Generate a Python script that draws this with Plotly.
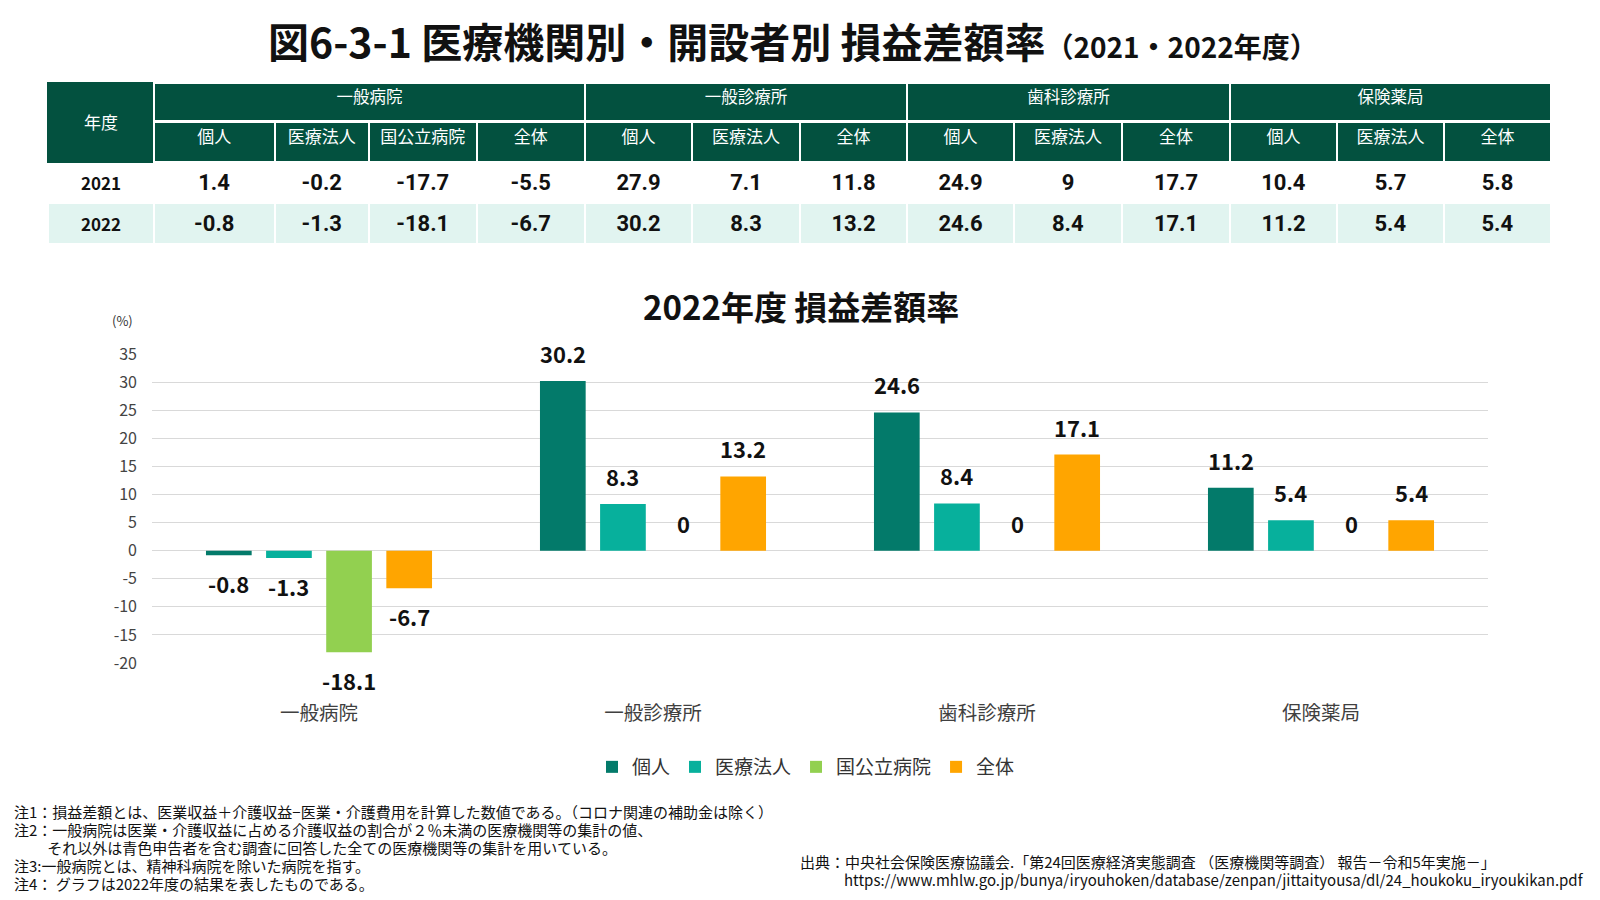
import plotly.graph_objects as go

# ---------------- data ----------------
categories = ["一般病院", "一般診療所", "歯科診療所", "保険薬局"]
series_names = ["個人", "医療法人", "国公立病院", "全体"]
v_kojin = [-0.8, 30.2, 24.6, 11.2]
v_iryou = [-1.3, 8.3, 8.4, 5.4]
v_kokkou = [-18.1, 0, 0, 0]
v_zentai = [-6.7, 13.2, 17.1, 5.4]
series_values = [v_kojin, v_iryou, v_kokkou, v_zentai]
series_colors = ["#037A6A", "#07B09C", "#92D050", "#FFA500"]

table_groups = ["一般病院", "一般診療所", "歯科診療所", "保険薬局"]
table_subheaders = ["個人", "医療法人", "国公立病院", "全体",
                    "個人", "医療法人", "全体",
                    "個人", "医療法人", "全体",
                    "個人", "医療法人", "全体"]
table_years = ["2021", "2022"]
row_2021 = [1.4, -0.2, -17.7, -5.5, 27.9, 7.1, 11.8, 24.9, 9, 17.7, 10.4, 5.7, 5.8]
row_2022 = [-0.8, -1.3, -18.1, -6.7, 30.2, 8.3, 13.2, 24.6, 8.4, 17.1, 11.2, 5.4, 5.4]

y_ticks = [35, 30, 25, 20, 15, 10, 5, 0, -5, -10, -15, -20]

notes = [
    "注1：損益差額とは、医業収益＋介護収益−医業・介護費用を計算した数値である。（コロナ関連の補助金は除く）",
    "注2：一般病院は医業・介護収益に占める介護収益の割合が２％未満の医療機関等の集計の値、",
    "\u3000\u3000 それ以外は青色申告者を含む調査に回答した全ての医療機関等の集計を用いている。",
    "注3:一般病院とは、精神科病院を除いた病院を指す。",
    "注4： グラフは2022年度の結果を表したものである。",
]
source_1 = "出典：中央社会保険医療協議会.「第24回医療経済実態調査 （医療機関等調査） 報告－令和5年実施－」"
source_2 = "https://www.mhlw.go.jp/bunya/iryouhoken/database/zenpan/jittaityousa/dl/24_houkoku_iryoukikan.pdf"

# ---------------- style ----------------
FONT = "Noto Sans CJK JP"
NUMFONT = "Roboto, Noto Sans CJK JP"
HDR = "#03513F"
ROW2 = "#E1F4F0"
W, H = 1600, 900
BARGAP = 0.28


def fmt(v):
    return f"{v:g}"


def px(x):
    return x / W


def py(y):
    return 1 - y / H


fig = go.Figure()

# ---------------- table: group header row ----------------
group_widths = [106, 431, 322, 323, 321]
fig.add_trace(go.Table(
    domain=dict(x=[px(48), px(1551)], y=[py(200), py(83)]),
    columnwidth=group_widths,
    header=dict(
        values=[""] + table_groups,
        fill_color=HDR,
        line=dict(color=[HDR] + ["white"] * 4, width=2),
        font=dict(family=FONT, color="white", size=16.5),
        height=38,
        align="center",
    ),
    cells=dict(values=[[] for _ in range(5)], height=1),
))

# ---------------- table: sub header + data rows ----------------
sub_widths = [106, 120.5, 94.5, 107.5, 108.5, 107, 108, 107, 107, 108, 108, 107, 107, 107]
cell_cols = [["<b>%s</b>" % y for y in table_years]]
for a, b in zip(row_2021, row_2022):
    cell_cols.append(["<b>%s</b>" % fmt(a), "<b>%s</b>" % fmt(b)])
fig.add_trace(go.Table(
    domain=dict(x=[px(48), px(1551)], y=[py(290), py(122)]),
    columnwidth=sub_widths,
    header=dict(
        values=[""] + table_subheaders,
        fill_color=HDR,
        line=dict(color=[HDR] + ["white"] * 13, width=2),
        font=dict(family=FONT, color="white", size=17),
        height=40,
        align="center",
    ),
    cells=dict(
        values=cell_cols,
        fill_color=[["white", ROW2]] * 14,
        line=dict(color="white", width=2),
        font=dict(family=[FONT] + [NUMFONT] * 13, color="#111111", size=[17] + [22] * 13),
        height=40,
        align="center",
    ),
))

# ---------------- bars ----------------
for name, vals, col in zip(series_names, series_values, series_colors):
    fig.add_trace(go.Bar(
        name=name, x=categories, y=vals,
        marker=dict(color=col, line=dict(width=0)),
        hoverinfo="skip",
    ))

annotations = []
# value labels, placed on the category scale at each bar's group slot
n = len(series_names)
slot = (1 - BARGAP) / n
for i, vals in enumerate(series_values):
    off = -(1 - BARGAP) / 2 + slot * (i + 0.5)
    for j, v in enumerate(vals):
        annotations.append(dict(
            x=j + off, y=v, xref="x", yref="y", text="<b>%s</b>" % fmt(v),
            showarrow=False, yshift=28 if v >= 0 else -28,
            xanchor="center", yanchor="middle",
            font=dict(family=FONT, size=22, color="#111111")))

annotations += [
    dict(text="<b>図6-3-1 医療機関別・開設者別 損益差額率</b><b><span style='font-size:28px'>（2021・2022年度）</span></b>",
         x=px(793), y=py(40), xref="paper", yref="paper", showarrow=False,
         font=dict(family=FONT, size=41, color="#111111"), xanchor="center", yanchor="middle"),
    dict(text="<b>2022年度 損益差額率</b>",
         x=px(801), y=py(306), xref="paper", yref="paper", showarrow=False,
         font=dict(family=FONT, size=33, color="#111111"), xanchor="center", yanchor="middle"),
    dict(text="年度", x=px(101), y=py(122), xref="paper", yref="paper", showarrow=False,
         font=dict(family=FONT, size=17, color="white"), xanchor="center", yanchor="middle"),
    dict(text="(%)", x=px(122), y=py(320), xref="paper", yref="paper", showarrow=False,
         font=dict(family=FONT, size=13, color="#333333"), xanchor="center", yanchor="middle"),
    dict(text=source_1, x=px(798), y=py(861), xref="paper", yref="paper", showarrow=False,
         font=dict(family=FONT, size=15, color="#111111"), xanchor="left", yanchor="middle"),
    dict(text=source_2, x=px(842), y=py(879), xref="paper", yref="paper", showarrow=False,
         font=dict(family=FONT, size=15, color="#111111"), xanchor="left", yanchor="middle"),
]
note_y = [811, 829, 847, 865, 883]
for t, yy in zip(notes, note_y):
    annotations.append(dict(text=t, x=px(12), y=py(yy), xref="paper", yref="paper", showarrow=False,
                            font=dict(family=FONT, size=15, color="#111111"),
                            xanchor="left", yanchor="middle"))

fig.update_layout(
    width=W, height=H, autosize=False,
    margin=dict(l=0, r=0, t=0, b=0, pad=0, autoexpand=False),
    paper_bgcolor="white", plot_bgcolor="white",
    font=dict(family=FONT, color="#333333"),
    barmode="group", bargap=BARGAP, bargroupgap=0.24,
    xaxis=dict(domain=[px(152), px(1488)], showgrid=False, showline=False, zeroline=False,
               ticks="", tickfont=dict(size=19.5, color="#404040"), ticklabelstandoff=36,
               automargin=False, fixedrange=True),
    yaxis=dict(domain=[py(663), py(354)], range=[-20, 35], tickvals=y_ticks,
               ticktext=[str(t) for t in y_ticks],
               showgrid=True, gridcolor="#D9D9D9", gridwidth=1,
               zeroline=True, zerolinecolor="#D9D9D9", zerolinewidth=1,
               showline=False, ticks="", tickfont=dict(size=16, color="#444444"),
               ticklabelstandoff=14, automargin=False, fixedrange=True),
    legend=dict(orientation="h", x=px(806), xanchor="center", y=py(767), yanchor="middle",
                font=dict(family=FONT, size=19, color="#333333"), traceorder="normal",
                itemclick=False),
    annotations=annotations,
    showlegend=True,
)

fig.write_html("out.html")
